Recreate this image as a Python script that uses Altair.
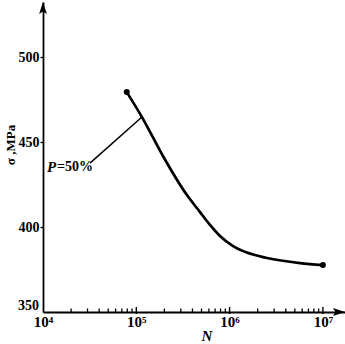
import altair as alt
import pandas as pd

# ---- data ----
N = [7.9e4, 1.15e5, 1.93e5, 3.49e5, 4.82e5, 6.17e5, 7.89e5, 1.09e6, 1.53e6, 2.52e6, 5.69e6, 1.0e7]
sigma = [479.4, 464.7, 441.8, 418.8, 408.8, 401.2, 394.7, 388.8, 385.0, 381.8, 378.8, 377.6]
end_N = [7.9e4, 1.0e7]
end_sigma = [479.4, 377.6]
leader_N = [3.19e4, 1.15e5]
leader_sigma = [437.6, 464.7]
x_major = [1e4, 1e5, 1e6, 1e7]
x_minor = [m * 10 ** k for k in (4, 5, 6) for m in range(2, 10)]
y_ticks = [400, 450, 500]
y_bottom = [350]
x_labels = ["10\u2074", "10\u2075", "10\u2076", "10\u2077"]
y_title = "\u03c3 ,MPa"
x_title = "N"
annot_p = "P"
annot_rest = "=50%"

W, H = 302, 310
FONT = "Liberation Serif"

xscale = alt.Scale(type="log", domain=[1e4, 1.726e7])
yscale = alt.Scale(domain=[350, 532.4], nice=False, zero=False)

label_expr = ("datum.value == 10000 ? '%s' : datum.value == 100000 ? '%s' : "
              "datum.value == 1000000 ? '%s' : '%s'") % tuple(x_labels)

xaxis = alt.Axis(values=x_major, labelExpr=label_expr, tickSize=0, grid=False,
                 domainColor="black", domainWidth=1.8, labelFont=FONT,
                 labelFontSize=15, labelFontWeight="bold", labelColor="black",
                 labelPadding=2, title=None, labelFlush=False)
yaxis = alt.Axis(values=y_ticks, tickSize=3, tickWidth=1.3, tickColor="black",
                 grid=False, domainColor="black", domainWidth=1.8, labelFont=FONT,
                 labelFontSize=14, labelFontWeight="bold", labelColor="black",
                 labelPadding=1, title=None)


def X(f="N"):
    return alt.X(f + ":Q", scale=xscale, axis=xaxis)


def Y(f="sigma"):
    return alt.Y(f + ":Q", scale=yscale, axis=yaxis)


curve_df = pd.DataFrame({"N": N, "sigma": sigma})
end_df = pd.DataFrame({"N": end_N, "sigma": end_sigma})
lead_df = pd.DataFrame({"N": leader_N, "sigma": leader_sigma})
xmaj_df = pd.DataFrame({"N": x_major[1:]})
xmin_df = pd.DataFrame({"N": x_minor})
ybot_df = pd.DataFrame({"sigma": y_bottom, "lab": [str(v) for v in y_bottom]})
one = pd.DataFrame({"a": [0]})

curve = alt.Chart(curve_df).mark_line(color="black", strokeWidth=2.7,
                                      interpolate="monotone").encode(x=X(), y=Y())
ends = alt.Chart(end_df).mark_circle(color="black", size=36, opacity=1).encode(x=X(), y=Y())
leader = alt.Chart(lead_df).mark_line(color="black", strokeWidth=1.5).encode(x=X(), y=Y())

xmaj = alt.Chart(xmaj_df).mark_rule(color="black", strokeWidth=1.4).encode(
    x=X(), y=alt.value(H + 2), y2=alt.value(H - 5))
xmin = alt.Chart(xmin_df).mark_rule(color="black", strokeWidth=1.3).encode(
    x=X(), y=alt.value(H), y2=alt.value(H - 3.5))

ybot = alt.Chart(ybot_df).mark_text(font=FONT, fontSize=14, fontWeight="bold",
                                    align="right", baseline="bottom", dy=1,
                                    color="black").encode(
    y=Y(), x=alt.value(-4), text="lab:N")

arrow_x = alt.Chart(one).mark_point(shape="M-1,-0.65L1,0L-1,0.65L-0.6,0Z", size=144,
                                    filled=True, color="black", opacity=1,
                                    strokeWidth=0).encode(x=alt.value(W - 6), y=alt.value(H))
arrow_y = alt.Chart(one).mark_point(shape="M-0.65,1L0,-1L0.65,1L0,0.6Z", size=144,
                                    filled=True, color="black", opacity=1,
                                    strokeWidth=0).encode(x=alt.value(0), y=alt.value(6))

ytitle = alt.Chart(one).mark_text(text=y_title, font=FONT, fontSize=13, angle=270,
                                  color="black", fontWeight="bold").encode(
    x=alt.value(-32), y=alt.value(143))
xtitle = alt.Chart(one).mark_text(text=x_title, font=FONT, fontSize=15, fontStyle="italic",
                                  color="black", fontWeight="bold").encode(
    x=alt.value(164), y=alt.value(334))
p1 = alt.Chart(one).mark_text(text=annot_p, font=FONT, fontSize=15, fontStyle="italic",
                              fontWeight="bold", align="left", baseline="middle",
                              color="black").encode(x=alt.value(4), y=alt.value(165))
p2 = alt.Chart(one).mark_text(text=annot_rest, font=FONT, fontSize=14, fontWeight="bold",
                              align="left", baseline="middle", color="black").encode(
    x=alt.value(14), y=alt.value(165))

chart = alt.layer(xmin, xmaj, leader, curve, ends, ybot, arrow_x, arrow_y,
                  ytitle, xtitle, p1, p2).properties(
    width=W, height=H,
    padding={"left": 43, "top": 2, "right": 0, "bottom": 32},
    autosize=alt.AutoSizeParams(type="none"),
    background="white",
).configure_view(stroke=None)

chart.save("out.html", embed_options={"renderer": "svg", "actions": False})
